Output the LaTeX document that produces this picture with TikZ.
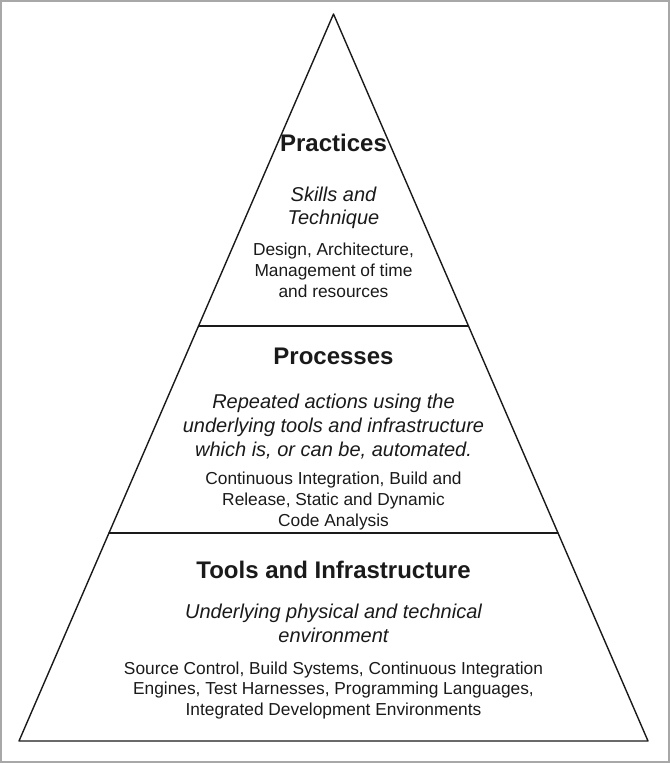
\documentclass[tikz,border=0pt]{standalone}
\usepackage{fontspec}
\setmainfont{Liberation Sans}
\usetikzlibrary{calc}
\definecolor{framegray}{HTML}{A8A8A8}
\definecolor{ink}{HTML}{1A1A1A}
\begin{document}
\begin{tikzpicture}[x=1bp,y=-1bp,
  frame/.style={draw=framegray, line width=2.2bp},
  pyr/.style={draw=ink, line width=1.4bp, line join=round, line cap=round},
  ttl/.style={font=\fontsize{24bp}{28bp}\selectfont\bfseries, anchor=base, inner sep=0, text=ink},
  sub/.style={font=\fontsize{20bp}{24bp}\selectfont\itshape, anchor=base, inner sep=0, text=ink},
  body/.style={font=\fontsize{17.33bp}{21bp}\selectfont, anchor=base, inner sep=0, text=ink}]
\useasboundingbox (0,0) rectangle (670,763);
\draw[frame] (1.1,1.1) rectangle (668.9,761.9);
% pyramid
\coordinate (apex) at (333.5,14);
\coordinate (bl) at (19,741);
\coordinate (br) at (648,741);
\coordinate (d1l) at ($(apex)!0.4292!(bl)$);
\coordinate (d1r) at ($(apex)!0.4292!(br)$);
\coordinate (d2l) at ($(apex)!0.7139!(bl)$);
\coordinate (d2r) at ($(apex)!0.7139!(br)$);
\draw[pyr] (apex) -- (bl) -- (br) -- cycle;
\draw[pyr] (d1l) -- (d1r);
\draw[pyr] (d2l) -- (d2r);
% Practices
\node[ttl] (t1) at (333.5,151.5) {Practices};
\node[sub] (s1a) at (333.5,201) {Skills and};
\node[sub] (s1b) at (333.5,224.5) {Technique};
\node[body] (b1a) at (333.5,255) {Design, Architecture,};
\node[body] (b1b) at (333.5,276.5) {Management of time};
\node[body] (b1c) at (333.5,297) {and resources};
% Processes
\node[ttl] (t2) at (333.5,364) {Processes};
\node[sub] (s2a) at (333.5,408.5) {Repeated actions using the};
\node[sub] (s2b) at (333.5,432) {underlying tools and infrastructure};
\node[sub] (s2c) at (333.5,456) {which is, or can be, automated.};
\node[body] (b2a) at (333.5,484) {Continuous Integration, Build and};
\node[body] (b2b) at (333.5,505) {Release, Static and Dynamic};
\node[body] (b2c) at (333.5,526) {Code Analysis};
% Tools and Infrastructure
\node[ttl] (t3) at (333.5,578.5) {Tools and Infrastructure};
\node[sub] (s3a) at (333.5,618.5) {Underlying physical and technical};
\node[sub] (s3b) at (333.5,642) {environment};
\node[body] (b3a) at (333.5,674) {Source Control, Build Systems, Continuous Integration};
\node[body] (b3b) at (333.5,694.5) {Engines, Test Harnesses, Programming Languages,};
\node[body] (b3c) at (333.5,715) {Integrated Development Environments};
\end{tikzpicture}
\end{document}
